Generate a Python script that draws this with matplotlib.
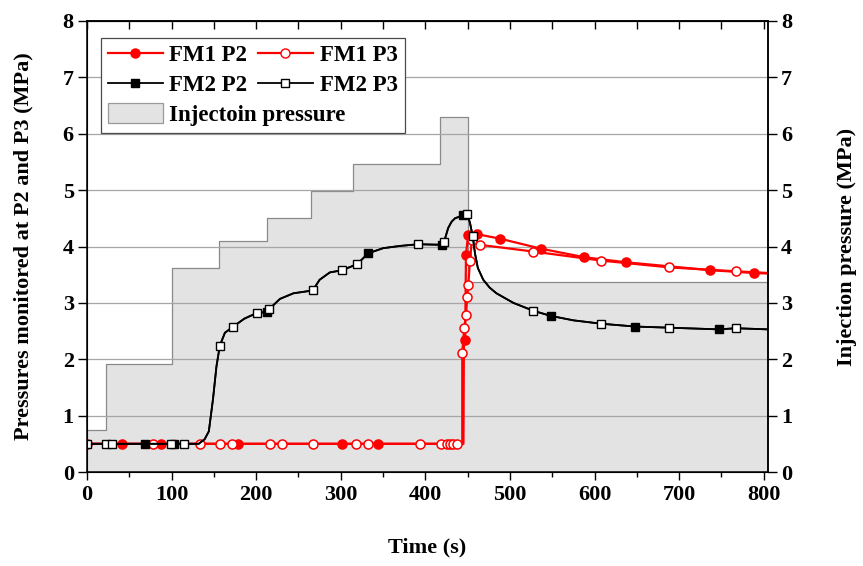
import matplotlib
matplotlib.use('Agg')
import matplotlib.pyplot as plt
from matplotlib.lines import Line2D
from matplotlib.patches import Patch
from matplotlib.ticker import MultipleLocator

# ---------------- data ----------------
inj_time = [0, 23, 100, 156.5, 212.5, 265, 315, 417, 450.5, 805]
inj_pres = [0.74, 1.92, 3.61, 4.09, 4.50, 4.99, 5.47, 6.30, 3.37, 3.37]

fm1_p2_time = [0, 41, 88, 178, 301, 344, 445, 445.5, 447, 448, 450.5, 460.5,
               488, 537, 588, 637, 737, 788, 805]
fm1_p2_pres = [0.5, 0.5, 0.5, 0.5, 0.5, 0.5, 0.5, 2.25, 2.34, 3.85, 4.21, 4.22,
               4.14, 3.96, 3.81, 3.72, 3.58, 3.53, 3.52]
fm1_p2_marks = [1, 2, 3, 4, 5, 8, 9, 10, 11, 12, 13, 14, 15, 16, 17]

fm1_p3_time = [0, 78, 133, 157, 171, 216, 230, 267, 318, 332, 394, 419, 425, 429,
               433, 437, 443.6, 443.6, 446, 448, 449.5, 450.7, 452.7, 455, 464.5,
               527.6, 608, 688, 767, 805]
fm1_p3_pres = [0.5, 0.5, 0.5, 0.5, 0.5, 0.5, 0.5, 0.5, 0.5, 0.5, 0.5, 0.5, 0.5, 0.5,
               0.5, 0.5, 0.5, 2.11, 2.56, 2.79, 3.11, 3.32, 3.74, 4.12, 4.03,
               3.91, 3.75, 3.63, 3.56, 3.53]
fm1_p3_marks = list(range(0, 16)) + list(range(17, 29))

fm2_time = [0, 22, 29, 68, 99, 103, 115, 132, 139, 144, 149, 153, 157, 163, 172,
            186, 200.6, 213, 215.5, 228, 244, 266.8, 275, 287, 302, 319.5, 332.5,
            350, 370, 391.6, 420, 422, 424, 427, 431, 435, 444, 449.5, 452.7, 456,
            458.6, 462, 468.4, 476, 484, 504, 527.6, 548, 575, 608, 648, 688, 747,
            767, 805]
fm2_pres = [0.5, 0.5, 0.5, 0.5, 0.5, 0.5, 0.5, 0.5, 0.58, 0.72, 1.3, 1.87, 2.24,
            2.47, 2.57, 2.72, 2.82, 2.84, 2.89, 3.07, 3.17, 3.22, 3.41, 3.54, 3.58,
            3.69, 3.88, 3.97, 4.01, 4.04, 4.03, 4.08, 4.18, 4.33, 4.44, 4.50, 4.55,
            4.57, 4.42, 4.18, 3.88, 3.62, 3.41, 3.27, 3.17, 3.00, 2.86, 2.77, 2.69,
            2.63, 2.58, 2.56, 2.53, 2.55, 2.53]
fm2_p2_marks = [3, 5, 17, 26, 30, 36, 47, 50, 52]
fm2_p3_marks = [0, 1, 2, 4, 6, 12, 14, 16, 18, 21, 24, 25, 29, 31, 37, 39, 46, 49, 51, 53]

x_ticks = [0, 100, 200, 300, 400, 500, 600, 700, 800]
y_ticks = [0, 1, 2, 3, 4, 5, 6, 7, 8]

# ---------------- style ----------------
plt.rcParams['font.family'] = ['Liberation Serif', 'DejaVu Serif']
plt.rcParams['font.weight'] = 'bold'
plt.rcParams['axes.labelweight'] = 'bold'
FS = 16
RED = '#ff0000'

fig = plt.figure(figsize=(8.63, 5.66), dpi=100)
W, H = 863, 566
ax = fig.add_axes([87 / W, 1 - 472 / H, (768 - 87) / W, (472 - 21) / H])
ax.set_xlim(0, 805)
ax.set_ylim(0, 8)

# injection pressure (step area)
ax.fill_between(inj_time, 0, inj_pres, step='post', facecolor='#e3e3e3',
                edgecolor='none', zorder=1)
ax.step(inj_time, inj_pres, where='post', color='#8a8a8a', lw=0.9, zorder=1.1)

# grid
ax.set_axisbelow('line')
ax.yaxis.grid(True, color='#a6a6a6', lw=0.9)

# series
ax.plot(fm1_p2_time, fm1_p2_pres, color=RED, lw=1.6, marker='o', ms=6.5,
        mfc=RED, mec=RED, mew=1.1, markevery=fm1_p2_marks, zorder=3)
ax.plot(fm1_p3_time, fm1_p3_pres, color=RED, lw=1.6, marker='o', ms=6.5,
        mfc='white', mec=RED, mew=1.1, markevery=fm1_p3_marks, zorder=3)
ax.plot(fm2_time, fm2_pres, color='black', lw=1.3, marker='s', ms=5.5,
        mfc='black', mec='black', mew=1.0, markevery=fm2_p2_marks, zorder=4)
ax.plot(fm2_time, fm2_pres, color='black', lw=1.3, marker='s', ms=5.5,
        mfc='white', mec='black', mew=1.0, markevery=fm2_p3_marks, zorder=4)

# axes / ticks
ax.set_xticks(x_ticks)
ax.xaxis.set_minor_locator(MultipleLocator(50))
ax.set_yticks(y_ticks)
ax.tick_params(axis='x', which='major', direction='out', length=6, width=1,
               labelsize=FS, pad=3)
ax.tick_params(axis='x', which='minor', direction='out', length=3.5, width=1)
ax.tick_params(axis='y', which='major', direction='out', length=6.5, width=1,
               labelsize=FS, pad=3)
for s in ax.spines.values():
    s.set_linewidth(1.1)

top = ax.secondary_xaxis('top')
top.set_xticks(list(range(0, 801, 50)))
top.tick_params(axis='x', direction='in', length=6, width=1, labeltop=False)
top.spines['top'].set_linewidth(1.1)

ax2 = ax.twinx()
ax2.set_ylim(0, 8)
ax2.set_yticks(y_ticks)
ax2.tick_params(axis='y', direction='out', length=6.5, width=1, labelsize=FS, pad=3)
ax2.spines['right'].set_linewidth(1.1)

ax.set_xlabel('Time (s)', fontsize=FS, labelpad=24)
ax.set_ylabel('Pressures monitored at P2 and P3 (MPa)', fontsize=FS)
ax.yaxis.set_label_coords((33 - 87) / 681, 0.5)
ax2.set_ylabel('Injection pressure (MPa)', fontsize=FS)
ax2.yaxis.set_label_coords((837 - 87) / 681, 0.5)

# ---------------- legend ----------------
h_fm1p2 = Line2D([], [], color=RED, lw=1.6, marker='o', ms=6.5, mfc=RED, mec=RED)
h_fm1p3 = Line2D([], [], color=RED, lw=1.6, marker='o', ms=6.5, mfc='white', mec=RED)
h_fm2p2 = Line2D([], [], color='black', lw=1.3, marker='s', ms=5.5, mfc='black', mec='black')
h_fm2p3 = Line2D([], [], color='black', lw=1.3, marker='s', ms=5.5, mfc='white', mec='black')
blank = Line2D([], [], linestyle='none')

leg_kw = dict(fontsize=16.5, handlelength=2.4, handletextpad=0.3, borderpad=0.3,
              labelspacing=0.38, borderaxespad=0)
legA = ax.legend([h_fm1p2, h_fm2p2, blank, h_fm1p3, h_fm2p3, blank],
                 ['FM1 P2', 'FM2 P2', ' ', 'FM1 P3', 'FM2 P3', ' '],
                 ncol=2, columnspacing=0.45, loc='upper left',
                 bbox_to_anchor=(13.7 / 681, (472 - 38.3) / 451),
                 frameon=True, fancybox=False, framealpha=1,
                 edgecolor='#4a4a4a', **leg_kw)
legA.get_frame().set_linewidth(0.9)
ax.add_artist(legA)

h_inj = Patch(facecolor='#e3e3e3', edgecolor='#9a9a9a', lw=0.9)
legB = ax.legend([h_inj], ['Injectoin pressure'], loc='upper left',
                 bbox_to_anchor=(13.7 / 681, 0.5), frameon=False,
                 handleheight=1.0, **leg_kw)

fig.canvas.draw()
r = fig.canvas.get_renderer()
ta = legA.get_texts()
tb = legB.get_texts()[0]
ea = ta[0].get_window_extent(r)
eb_ref = ta[2].get_window_extent(r)
eb = tb.get_window_extent(r)
dx = ea.x0 - eb.x0
dy = eb_ref.y0 - eb.y0
inv = ax.transAxes.inverted()
p0 = inv.transform((0, 0))
p1 = inv.transform((dx, dy))
legB.set_bbox_to_anchor((13.7 / 681 + (p1[0] - p0[0]), 0.5 + (p1[1] - p0[1])),
                        transform=ax.transAxes)

fig.savefig('out.png', dpi=100)
